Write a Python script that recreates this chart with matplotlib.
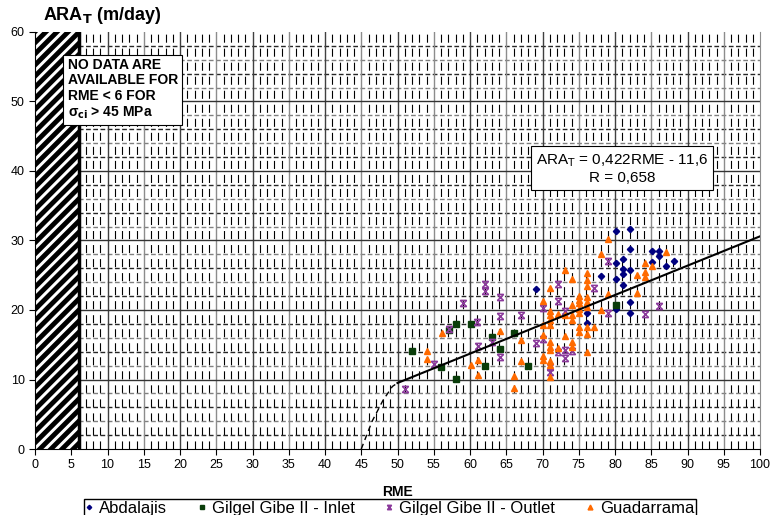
import matplotlib
matplotlib.use("Agg")
import matplotlib.pyplot as plt
from matplotlib.path import Path

plt.rcParams['font.family'] = ['Liberation Sans', 'DejaVu Sans']
plt.rcParams['hatch.linewidth'] = 3.5
plt.rcParams['lines.scale_dashes'] = False

# data
abd_x = [69.1, 80.1, 82.1, 82.1, 85.1, 86.1, 86.1, 85.1, 88.1, 87.1, 81.1, 80.1, 81.1, 82.1,
         81.1, 78.1, 80.1, 81.1, 82.1, 80.1, 82.1, 76.1, 76.1]
abd_y = [23.0, 31.4, 31.7, 28.8, 28.5, 28.5, 27.7, 26.9, 27.1, 26.3, 27.3, 26.7, 25.9, 25.7,
         25.2, 24.9, 24.5, 23.6, 21.2, 20.2, 19.6, 19.6, 18.2]

inlet_x = [52.0, 56.0, 58.1, 57.1, 58.1, 60.1, 63.0, 64.1, 62.1, 66.1, 68.0, 80.1]
inlet_y = [14.1, 11.8, 10.1, 17.1, 18.0, 18.0, 16.1, 14.4, 11.9, 16.7, 11.9, 20.7]

outlet_x = [62.1, 62.1, 64.1, 59.1, 72.1, 72.1, 64.1, 67.1, 61.0, 57.1, 70.1, 61.1, 63.0, 64.1,
            70.1, 69.1, 55.1, 51.0, 72.1, 71.1, 71.1, 79.1, 77.1, 79.1, 84.1, 86.1, 73.1, 73.1,
            74.1, 73.1]
outlet_y = [23.8, 22.7, 21.9, 21.0, 23.7, 21.3, 19.2, 19.3, 18.3, 17.2, 20.3, 14.8, 15.4, 13.3,
            15.8, 15.2, 12.3, 8.7, 14.0, 11.1, 11.8, 27.1, 23.2, 19.5, 19.4, 20.6, 19.8, 14.2,
            14.1, 13.1]

gua_x = [71.1, 70.1, 71.1, 71.1, 71.1, 71.1, 72.1, 70.1, 70.1, 71.1, 71.1, 71.1, 72.1, 70.1,
         70.1, 71.1, 71.1, 71.1, 67.1, 64.1, 67.1, 66.1, 66.1, 61.1, 60.1, 61.1, 56.1, 54.1,
         54.1, 79.1, 78.1, 87.1, 84.1, 85.1, 84.1, 84.1, 83.1, 83.1, 79.1, 78.1, 73.1, 74.1,
         76.1, 76.1, 76.1, 75.0, 75.0, 75.0, 75.0, 75.0, 76.1, 76.1, 76.1, 74.1, 74.1, 74.1,
         73.1, 75.0, 75.0, 76.1, 76.1, 76.1, 77.1, 73.1, 74.1, 74.1]
gua_y = [23.1, 21.3, 19.8, 19.3, 18.6, 17.8, 19.4, 17.8, 16.4, 15.4, 14.7, 14.2, 14.5, 13.4,
         12.8, 12.6, 12.1, 10.4, 15.7, 17.0, 12.6, 10.5, 8.8, 12.8, 12.1, 10.6, 16.7, 14.1,
         13.0, 30.2, 28.0, 28.4, 26.8, 26.3, 25.5, 24.8, 25.0, 22.4, 22.3, 20.0, 25.7, 24.5,
         25.3, 24.3, 23.4, 22.0, 21.5, 21.0, 20.2, 19.5, 21.9, 21.2, 20.5, 20.7, 19.3, 18.6,
         19.3, 17.6, 16.9, 17.6, 16.6, 14.0, 17.5, 16.2, 15.4, 14.7]

fit_x = [50, 100]
fit_y = [0.422 * 50 - 11.6, 0.422 * 100 - 11.6]
ext_x = [45, 46.5, 48, 49.3, 50]
ext_y = [0, 4, 7, 9, 9.5]

# excel-like star marker: an x capped top and bottom
star = Path([(-1, -1), (1, 1), (-1, 1), (1, -1), (-1, 1), (1, 1), (-1, -1), (1, -1)],
            [Path.MOVETO, Path.LINETO] * 4)

fig = plt.figure(figsize=(7.71, 5.15), dpi=100)
ax = fig.add_axes([35 / 771, 1 - 449 / 515, 725 / 771, 417 / 515])
ax.set_xlim(0, 100)
ax.set_ylim(0, 60)

# busy background grid
for xv in range(7, 100):
    if xv % 5:
        ax.axvline(xv, color='black', lw=0.8, dashes=(5.8, 4.3), zorder=0)
for yv in range(2, 60, 2):
    if yv % 10:
        c = '0.15' if (yv // 2) % 2 else '0.5'
        ax.axhline(yv, color=c, lw=1.0, dashes=(3.4, 1.8), zorder=0)
for xv in range(10, 100, 5):
    ax.axvline(xv, color='0.55' if xv % 10 else '0.25', lw=1.0, zorder=0.5)
for yv in range(10, 60, 10):
    ax.axhline(yv, color='0.2', lw=1.0, zorder=0.5)

# no data zone
ax.fill_betweenx([0, 60], 0, 6, facecolor='white', edgecolor='black', hatch='///', lw=0, zorder=1)
ax.axvline(6, color='black', lw=2.5, zorder=1.5)

ax.plot(abd_x, abd_y, 'D', color='#00007f', ms=3.2, label='Abdalajis', zorder=3)
ax.plot(inlet_x, inlet_y, 's', color='#0a3d0a', ms=4.5, label='Gilgel Gibe II - Inlet', zorder=3)
ax.plot(outlet_x, outlet_y, marker=star, ls='none', color='#8b3a9b', ms=4.5, mew=1.1,
        label='Gilgel Gibe II - Outlet', zorder=3)
ax.plot(gua_x, gua_y, '^', color='#ff6a00', ms=5, label='Guadarrama', zorder=3)

ax.plot(fit_x, fit_y, color='black', lw=1.5, zorder=4)
ax.plot(ext_x, ext_y, color='black', lw=1.0, dashes=(4, 3), zorder=4)

ax.set_xticks(range(0, 101, 5))
ax.set_yticks(range(0, 61, 10))
ax.tick_params(direction='out', length=4, labelsize=9, colors='black')
ax.spines['top'].set_visible(False)
ax.spines['right'].set_color('0.55')
ax.set_xlabel('RME', fontsize=10, fontweight='bold', labelpad=10)

fig.text(43 / 771, 1 - 16 / 515, r'ARA$_\mathbf{T}$ (m/day)', fontsize=13, fontweight='bold',
         va='center', ha='left')

ax.text(4.5, 56.3, 'NO DATA ARE\nAVAILABLE FOR\nRME < 6 FOR\nσ' + r'$_{\mathbf{ci}}$ > 45 MPa',
        fontsize=10, fontweight='bold', va='top', ha='left', linespacing=1.15, zorder=5,
        bbox=dict(boxstyle='square,pad=0.3', fc='white', ec='black', lw=0.8))

ax.text(81.0, 40.3, 'ARA$_\\mathrm{T}$ = 0,422RME - 11,6\nR = 0,658', fontsize=11,
        ha='center', va='center', zorder=5,
        bbox=dict(boxstyle='square,pad=0.3', fc='white', ec='black', lw=0.8))

fig.legend(loc='upper center', bbox_to_anchor=(390 / 771, 1 - 499 / 515), ncol=4,
           fontsize=12, frameon=True, fancybox=False, edgecolor='black', framealpha=1,
           markerscale=0.7, handlelength=0.4, handletextpad=0.4, columnspacing=1.9,
           borderpad=0.1, borderaxespad=0)

fig.savefig('out.png', dpi=100)
